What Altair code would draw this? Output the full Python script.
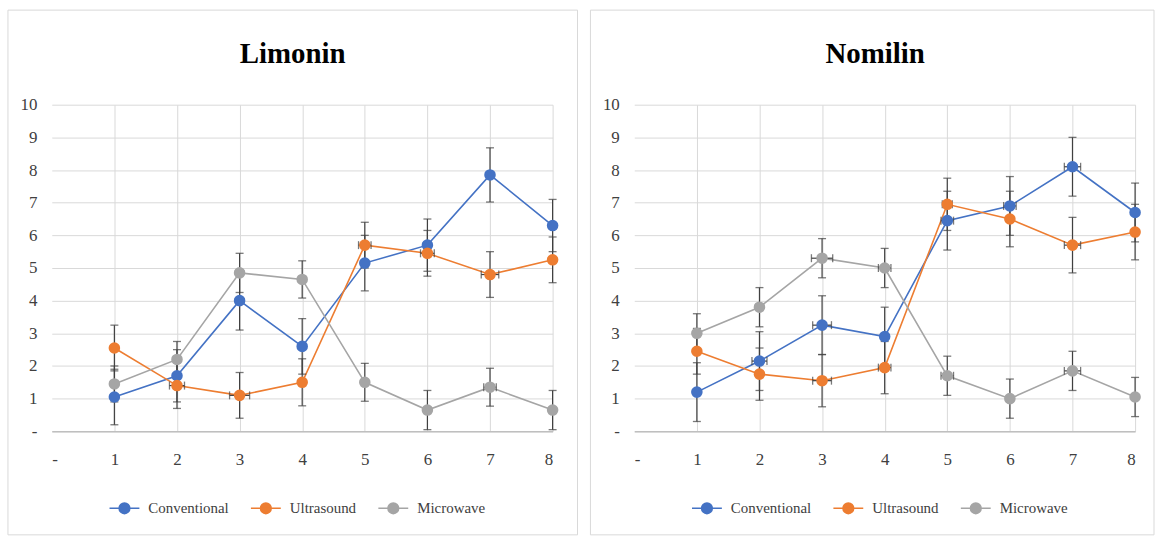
import altair as alt
import pandas as pd

stages = [1, 2, 3, 4, 5, 6, 7, 8]
methods = ["Conventional", "Ultrasound", "Microwave"]
colors = ["#4472C4", "#ED7D31", "#A5A5A5"]

# Limonin: means, vertical error (+/-) and horizontal error (+/-)
limonin_conventional = [1.05, 1.7, 4.0, 2.6, 5.15, 5.7, 7.85, 6.3]
limonin_ultrasound = [2.55, 1.4, 1.1, 1.5, 5.7, 5.45, 4.8, 5.25]
limonin_microwave = [1.45, 2.2, 4.85, 4.65, 1.5, 0.65, 1.35, 0.65]
limonin_conventional_err = [0.85, 0.8, 0.9, 0.85, 0.85, 0.8, 0.83, 0.8]
limonin_ultrasound_err = [0.7, 0.7, 0.7, 0.72, 0.7, 0.7, 0.7, 0.7]
limonin_microwave_err = [0.55, 0.55, 0.6, 0.57, 0.58, 0.6, 0.58, 0.6]
limonin_conventional_xerr = [0, 0, 0, 0, 0, 0, 0, 0]
limonin_ultrasound_xerr = [0, 0.12, 0.16, 0, 0.1, 0.11, 0.14, 0]
limonin_microwave_xerr = [0, 0, 0, 0, 0, 0, 0.1, 0]

# Nomilin
nomilin_conventional = [1.2, 2.15, 3.25, 2.9, 6.45, 6.9, 8.1, 6.7]
nomilin_ultrasound = [2.45, 1.75, 1.55, 1.95, 6.95, 6.5, 5.7, 6.1]
nomilin_microwave = [3.0, 3.8, 5.3, 5.0, 1.7, 1.0, 1.85, 1.05]
nomilin_conventional_err = [0.9, 0.9, 0.9, 0.9, 0.9, 0.9, 0.9, 0.9]
nomilin_ultrasound_err = [0.7, 0.8, 0.8, 0.8, 0.8, 0.85, 0.85, 0.85]
nomilin_microwave_err = [0.6, 0.6, 0.6, 0.6, 0.6, 0.6, 0.6, 0.6]
nomilin_conventional_xerr = [0, 0.12, 0.15, 0, 0.1, 0.1, 0.13, 0]
nomilin_ultrasound_xerr = [0, 0, 0.15, 0.1, 0.08, 0, 0.13, 0]
nomilin_microwave_xerr = [0, 0, 0.17, 0.1, 0.1, 0, 0.13, 0]

FONT = "Liberation Serif"
ERR_COLOR = "#404040"
PLOT_W = 503
PLOT_H = 328

# legend symbol: a short line with a dot in the middle
LEGEND_SYMBOL = (
    "M-1,0L1,0M-0.36,0A0.36,0.36,0,1,1,0.36,0A0.36,0.36,0,1,1,-0.36,0Z"
)

color_scale = alt.Scale(domain=methods, range=colors)


def build_table(values, yerrs, xerrs):
    rows = []
    for k, m in enumerate(methods):
        for i, s in enumerate(stages):
            v, e, xe = values[k][i], yerrs[k][i], xerrs[k][i]
            rows.append(
                dict(method=m, stage=s, value=v, lo=v - e, hi=v + e,
                     xlo=s - xe, xhi=s + xe, xerr=xe, order=k)
            )
    return pd.DataFrame(rows)


def panel(title, values, yerrs, xerrs, border_right):
    df = build_table(values, yerrs, xerrs)
    caps = pd.concat([df.assign(cap=df["lo"]), df.assign(cap=df["hi"])])
    hdf = df[df["xerr"] > 0]
    hcaps = pd.concat([hdf.assign(capx=hdf["xlo"]), hdf.assign(capx=hdf["xhi"])])

    x_axis = alt.Axis(
        values=list(range(0, 9)),
        labelExpr="datum.value == 0 ? '-' : datum.label",
        grid=True,
        gridColor="#d9d9d9",
        gridOpacity={"condition": {"test": "datum.value == 0", "value": 0}, "value": 1},
        domainColor="#bfbfbf",
        domainWidth=1.5,
        ticks=False,
        labelPadding=20,
    )
    y_axis = alt.Axis(
        values=list(range(0, 11)),
        labelExpr="datum.value == 0 ? '-' : datum.label",
        grid=True,
        gridColor="#d9d9d9",
        domain=False,
        ticks=False,
        labelPadding=15,
    )
    xs = alt.Scale(domain=[0, 8], nice=False)
    ys = alt.Scale(domain=[0, 10], nice=False)

    def X(field):
        return alt.X(field, type="quantitative", scale=xs, axis=x_axis, title=None)

    def Y(field):
        return alt.Y(field, type="quantitative", scale=ys, axis=y_axis, title=None)

    legend = alt.Legend(
        title=None,
        orient="none",
        legendX=57,
        legendY=389,
        direction="horizontal",
        symbolType=LEGEND_SYMBOL,
        symbolSize=900,
        symbolStrokeWidth=1.5,
        labelFont=FONT,
        labelFontSize=15,
        labelColor="#404040",
        labelOffset=8,
        columnPadding=19,
        padding=0,
    )

    one = pd.DataFrame({"k": [0]})
    border = alt.Chart(one).mark_rect(
        fillOpacity=0, stroke="#d9d9d9", strokeWidth=1
    ).encode(
        x=alt.value(-44), x2=alt.value(border_right), y=alt.value(-95), y2=alt.value(432)
    )
    heading = alt.Chart(one).mark_text(
        text=title, font=FONT, fontSize=29, fontWeight="bold", color="#000000",
        baseline="middle", align="center"
    ).encode(x=alt.value(242), y=alt.value(-51))

    lines = alt.Chart(df).mark_line(strokeWidth=1.6).encode(
        x=X("stage"), y=Y("value"),
        color=alt.Color("method:N", scale=color_scale, legend=legend),
        detail="method:N",
        order="stage:Q",
    )
    vbars = alt.Chart(df).mark_rule(color=ERR_COLOR, strokeWidth=1.2).encode(
        x=X("stage"), y=Y("lo"), y2="hi"
    )
    vcaps = alt.Chart(caps).mark_tick(
        orient="horizontal", size=8, thickness=1.3, color=ERR_COLOR
    ).encode(x=X("stage"), y=Y("cap"))
    hbars = alt.Chart(hdf).mark_rule(color=ERR_COLOR, strokeWidth=1.2).encode(
        x=X("xlo"), x2="xhi", y=Y("value")
    )
    hcap = alt.Chart(hcaps).mark_tick(
        orient="vertical", size=8, thickness=1.3, color=ERR_COLOR
    ).encode(x=X("capx"), y=Y("value"))
    points = alt.Chart(df).mark_point(filled=True, size=135, opacity=1).encode(
        x=X("stage"), y=Y("value"),
        color=alt.Color("method:N", scale=color_scale, legend=legend),
        order="order:Q",
    )

    return alt.layer(border, heading, lines, vbars, vcaps, hbars, hcap, points).properties(
        width=PLOT_W, height=PLOT_H
    )


left = panel(
    "Limonin",
    [limonin_conventional, limonin_ultrasound, limonin_microwave],
    [limonin_conventional_err, limonin_ultrasound_err, limonin_microwave_err],
    [limonin_conventional_xerr, limonin_ultrasound_xerr, limonin_microwave_xerr],
    528,
)
right = panel(
    "Nomilin",
    [nomilin_conventional, nomilin_ultrasound, nomilin_microwave],
    [nomilin_conventional_err, nomilin_ultrasound_err, nomilin_microwave_err],
    [nomilin_conventional_xerr, nomilin_ultrasound_xerr, nomilin_microwave_xerr],
    522,
)

chart = (
    alt.hconcat(left, right, spacing=11)
    .resolve_scale(color="independent")
    .properties(padding={"left": 7, "top": 8, "right": 0, "bottom": 0}, background="white")
    .configure_view(stroke=None)
    .configure_axis(labelFont=FONT, labelFontSize=17, labelColor="#404040")
)

chart.save("out.html", embed_options={"renderer": "svg", "actions": False})
